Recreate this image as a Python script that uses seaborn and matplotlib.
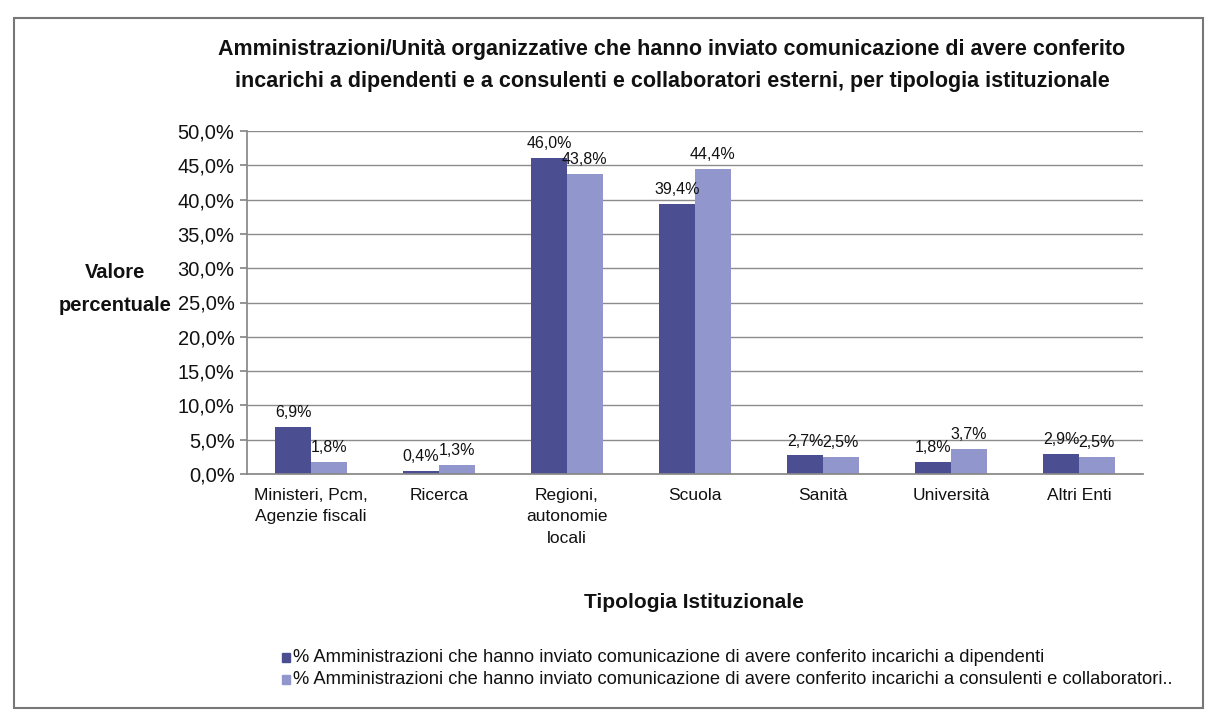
import matplotlib
matplotlib.use("Agg")
import matplotlib.pyplot as plt
import seaborn as sns
import pandas as pd
from matplotlib.patches import Rectangle

categories = ["Ministeri, Pcm,\nAgenzie fiscali", "Ricerca", "Regioni,\nautonomie\nlocali",
              "Scuola", "Sanità", "Università", "Altri Enti"]
dipendenti = [6.9, 0.4, 46.0, 39.4, 2.7, 1.8, 2.9]
consulenti = [1.8, 1.3, 43.8, 44.4, 2.5, 3.7, 2.5]
series = ["% Amministrazioni che hanno inviato comunicazione di avere conferito incarichi a dipendenti",
          "% Amministrazioni che hanno inviato comunicazione di avere conferito incarichi a consulenti e collaboratori.."]
yticks = [0, 5, 10, 15, 20, 25, 30, 35, 40, 45, 50]
colors = ["#4b4f92", "#9196cc"]

df = pd.DataFrame({
    "cat": categories * 2,
    "val": dipendenti + consulenti,
    "serie": [series[0]] * len(categories) + [series[1]] * len(categories),
})

sns.set_theme(style="white")
plt.rcParams["font.family"] = ["Liberation Sans", "DejaVu Sans"]

fig = plt.figure(figsize=(12.13, 7.22), dpi=100)
ax = fig.add_axes([247 / 1213, 1 - 474 / 722, (1143 - 247) / 1213, (474 - 131) / 722])

sns.barplot(data=df, x="cat", y="val", hue="serie", hue_order=series, palette=colors,
            width=0.56, gap=0, ax=ax, saturation=1, edgecolor="none", legend=False)

ax.set_ylim(0, 50)
ax.set_yticks(yticks)
ax.set_yticklabels([f"{v:.1f}%".replace(".", ",") for v in yticks], fontsize=14.5, color="#111111")
ax.yaxis.grid(True, color="#8c8c8c", linewidth=1)
ax.set_axisbelow(True)
ax.set_xlim(-0.5, len(categories) - 0.5)
ax.tick_params(axis="x", labelsize=12.5, length=0, pad=10, labelcolor="#111111")
for t in ax.get_xticklabels():
    t.set_linespacing(1.55)
ax.tick_params(axis="y", length=5, left=True, color="#888888", pad=4)
for s in ["top", "right"]:
    ax.spines[s].set_visible(False)
for s in ["left", "bottom"]:
    ax.spines[s].set_color("#888888")
ax.set_xlabel("")
ax.set_ylabel("")

for cont in ax.containers:
    ax.bar_label(cont, labels=[f"{v.get_height():.1f}%".replace(".", ",") for v in cont],
                 fontsize=11.5, padding=5, color="#111111")

fig.text(672 / 1213, 1 - 50 / 722, "Amministrazioni/Unità organizzative che hanno inviato comunicazione di avere conferito",
         ha="center", va="center", fontsize=15.5, fontweight="bold", color="#111111")
fig.text(672 / 1213, 1 - 81 / 722, "incarichi a dipendenti e a consulenti e collaboratori esterni, per tipologia istituzionale",
         ha="center", va="center", fontsize=15.5, fontweight="bold", color="#111111")
fig.text(115 / 1213, 1 - 289 / 722, "Valore\npercentuale", ha="center", va="center",
         fontsize=14.5, fontweight="bold", linespacing=1.9, color="#111111")
fig.text(694 / 1213, 1 - 603 / 722, "Tipologia Istituzionale", ha="center", va="center",
         fontsize=15, fontweight="bold", color="#111111")

for i, (lab, c) in enumerate(zip(series, colors)):
    y = 1 - (658 + 22 * i) / 722
    fig.patches.append(Rectangle((282 / 1213, y - 4 / 722), 8 / 1213, 9 / 722,
                                 transform=fig.transFigure, color=c, figure=fig))
    fig.text(293 / 1213, y, lab, ha="left", va="center", fontsize=13.2, color="#111111")

fig.patches.append(Rectangle((14 / 1213, 1 - 708 / 722), (1203 - 14) / 1213, (708 - 18) / 722,
                             transform=fig.transFigure, fill=False, edgecolor="#777777",
                             linewidth=1.5, figure=fig))

fig.savefig("out.png", dpi=100)
